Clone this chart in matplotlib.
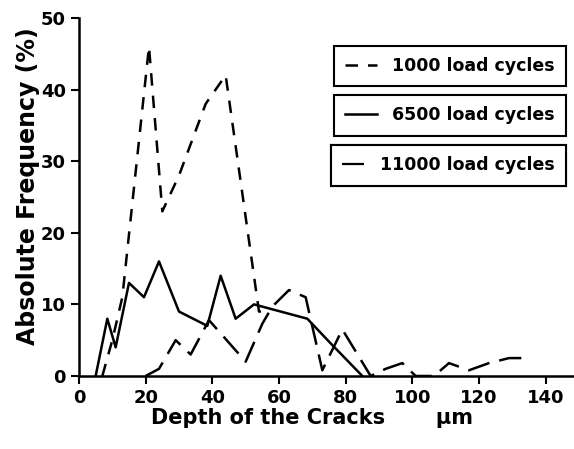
import numpy as np
import matplotlib.pyplot as plt
from matplotlib.lines import Line2D

plt.rcParams['font.family'] = ['DejaVu Sans']
plt.rcParams['font.weight'] = 'bold'

# crack depth distributions
x_1000 = [7, 10, 13, 21, 25, 30, 38, 44, 54, 55.5]
y_1000 = [0, 5, 11, 46, 23, 28, 38, 42, 9, 9]

x_6500 = [5, 8.5, 11, 15, 19.5, 24, 30, 38.5, 42.5, 47, 52.5, 68.5, 75, 85]
y_6500 = [0, 8, 4, 13, 11, 16, 9, 7, 14, 8, 10, 8, 4.8, 0]

x_11000 = [20, 24, 29, 33.5, 39, 50, 55, 58, 63, 68, 73, 79, 87.5, 92, 97, 101,
           106.5, 111, 117, 123, 129, 135]
y_11000 = [0, 1, 5, 3, 7.8, 2, 7.3, 9.7, 12, 11, 0.8, 6.5, 0, 1, 1.8, 0,
           0, 1.8, 0.8, 1.8, 2.5, 2.5]

labels = ['1000 load cycles', '6500 load cycles', '11000 load cycles']

fig = plt.figure(figsize=(5.74, 4.49), dpi=100)
ax = fig.add_axes([0.1376, 0.1626, 0.8624, 0.7974])

l1, = ax.plot(x_1000, y_1000, color='black', lw=1.8, dashes=(5, 4))
l2, = ax.plot(x_6500, y_6500, color='black', lw=1.8)
l3, = ax.plot(x_11000, y_11000, color='black', lw=1.8, dashes=(9, 4))

ax.set_xlim(0, 148.5)
ax.set_ylim(0, 50)
ax.set_xticks(np.arange(0, 141, 20))
ax.set_yticks(np.arange(0, 51, 10))
ax.spines['top'].set_visible(False)
ax.spines['right'].set_visible(False)
ax.spines['left'].set_linewidth(1.8)
ax.spines['bottom'].set_linewidth(1.8)
ax.tick_params(axis='both', direction='out', length=6, width=1.5, labelsize=13)

ax.set_xlabel('Depth of the Cracks       \u00b5m', fontsize=15, fontweight='bold')
ax.xaxis.set_label_coords(0.47, -0.09)
ax.set_ylabel('Absolute Frequency (%)', fontsize=17, fontweight='bold')
ax.yaxis.set_label_coords(-0.078, 0.53)

# the last handle is drawn nearly solid, as in the scanned legend
h3 = Line2D([], [], color='black', lw=1.6, dashes=(20, 2))
tops = [0.922, 0.785, 0.645]
hlens = [1.8, 1.8, 1.3]
for line, lab, top, hl in zip([l1, l2, h3], labels, tops, hlens):
    leg = ax.legend([line], [lab], loc='upper right', bbox_to_anchor=(0.984, top),
                    frameon=True, fancybox=False, edgecolor='black', framealpha=1,
                    prop={'size': 12.5, 'weight': 'bold'}, handlelength=hl,
                    handletextpad=0.9, borderpad=0.65, borderaxespad=0)
    leg.get_frame().set_linewidth(1.5)
    ax.add_artist(leg)

fig.savefig('out.png', dpi=100)
